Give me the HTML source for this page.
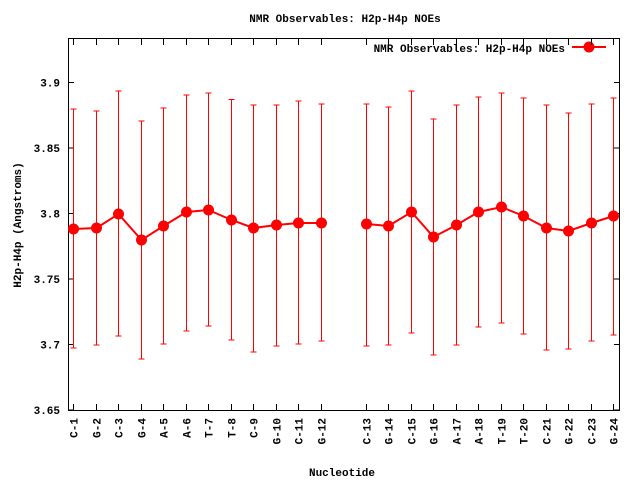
<!DOCTYPE html>
<html><head><style>body{margin:0;background:#fff}svg{display:block}text{font-family:"Liberation Mono",monospace;font-weight:bold;font-size:11px;fill:#000}</style></head>
<body>
<svg id="s" width="640" height="480" xmlns="http://www.w3.org/2000/svg">
<rect x="68.5" y="38.5" width="551" height="372" fill="none" stroke="#000" stroke-width="1" shape-rendering="crispEdges"/>
<text x="345" y="22" text-anchor="middle">NMR Observables: H2p-H4p NOEs</text>
<text x="342" y="476" text-anchor="middle">Nucleotide</text>
<text transform="translate(21,225) rotate(-90)" text-anchor="middle">H2p-H4p (Angstroms)</text>
<text x="565" y="52" text-anchor="end">NMR Observables: H2p-H4p NOEs</text>
<line x1="572" y1="47" x2="606" y2="47" stroke="#f00" stroke-width="2"/>
<circle cx="589" cy="47" r="5.5" fill="#f00"/>
<g id="g"></g>
</svg>
<script>
var g=document.getElementById('g'),h='';
var labs=["C-1","G-2","C-3","G-4","A-5","A-6","T-7","T-8","C-9","G-10","C-11","G-12","C-13","G-14","C-15","G-16","A-17","A-18","T-19","T-20","C-21","G-22","C-23","G-24"];
var d=[[229,109,348],[228,111,345],[214,91,336],[240,121,359],[226,108,344],[212,95,331],[210,93,326],[220,99.5,340],[228,105,352],[225,105,346],[223,101,344],[223,104,341],[224,104,346],[226,107,345],[212,91,333],[237,119,355],[225,105,345],[212,97,327],[207,93,323],[216,98,334],[228,105,350],[231,113,349],[223,104,341],[216,98,335]];
var yt=[[3.65,410],[3.7,344.5],[3.75,279],[3.8,213.5],[3.85,148],[3.9,82.5]];
yt.forEach(function(t){h+='<g shape-rendering="crispEdges"><line x1="68.5" y1="'+t[1]+'" x2="74" y2="'+t[1]+'" stroke="#000"/><line x1="614" y1="'+t[1]+'" x2="619.5" y2="'+t[1]+'" stroke="#000"/></g><text x="60" y="'+(t[1]+4)+'" text-anchor="end">'+t[0]+'</text>';});
var xs=[];
for(var i=0;i<24;i++){var k=i<12?i:i+1;xs.push(Math.round(73+k*22.5)+0.5);}
var p1='',p2='';
for(var i=0;i<24;i++){var x=xs[i],v=d[i];
h+='<g shape-rendering="crispEdges"><line x1="'+x+'" y1="410.5" x2="'+x+'" y2="404" stroke="#000"/><line x1="'+x+'" y1="38.5" x2="'+x+'" y2="45" stroke="#000"/></g>';
h+='<text transform="translate('+(x+4)+',418) rotate(-90)" text-anchor="end">'+labs[i]+'</text>';
h+='<g stroke="#f00" stroke-width="1" shape-rendering="crispEdges"><line x1="'+x+'" y1="'+v[1]+'" x2="'+x+'" y2="'+v[2]+'"/><line x1="'+(x-3)+'" y1="'+v[1]+'" x2="'+(x+3)+'" y2="'+v[1]+'"/><line x1="'+(x-3)+'" y1="'+v[2]+'" x2="'+(x+3)+'" y2="'+v[2]+'"/></g>';
if(i<12)p1+=x+','+v[0]+' ';else p2+=x+','+v[0]+' ';}
h+='<polyline points="'+p1+'" fill="none" stroke="#f00" stroke-width="2"/><polyline points="'+p2+'" fill="none" stroke="#f00" stroke-width="2"/>';
for(var i=0;i<24;i++)h+='<circle cx="'+xs[i]+'" cy="'+d[i][0]+'" r="5.5" fill="#f00"/>';
g.innerHTML=h;
</script>
</body></html>
